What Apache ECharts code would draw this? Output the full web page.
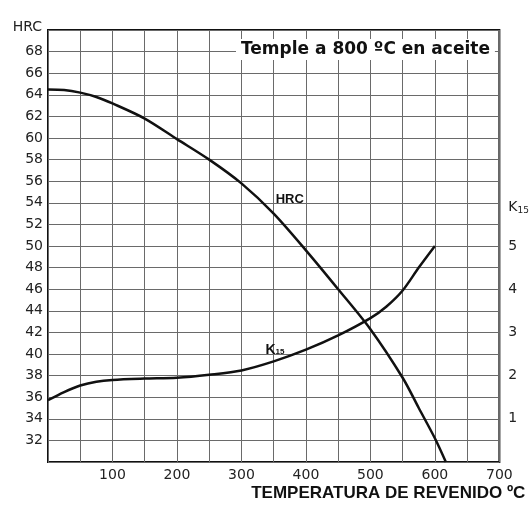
<!DOCTYPE html>
<html>
<head>
<meta charset="utf-8">
<script src="https://cdn.jsdelivr.net/npm/echarts@6/dist/echarts.min.js"></script>
<style>
  html, body { margin: 0; padding: 0; background: #fff; }
  #chart { width: 532px; height: 506px; }
</style>
</head>
<body>
<div id="chart"></div>
<script>
// Tempering temperature (ºC) against hardness (HRC) and toughness (K15)
const temperatures = [0, 25, 50, 75, 100, 150, 200, 250, 300, 350, 400, 450, 500, 550, 575, 600, 617];
const hrcValues    = [64.5, 64.45, 64.2, 63.8, 63.2, 61.8, 59.9, 58.0, 55.8, 53.0, 49.6, 46.0, 42.3, 37.8, 35.0, 32.2, 30.0];

const kTemperatures = [0, 25, 50, 75, 100, 150, 200, 250, 300, 350, 400, 450, 500, 525, 550, 575, 600];
const k15Values     = [1.43, 1.62, 1.77, 1.86, 1.9, 1.93, 1.95, 2.02, 2.12, 2.33, 2.6, 2.93, 3.33, 3.6, 3.97, 4.5, 5.0];

const xTickLabels = [100, 200, 300, 400, 500, 600, 700];
const hrcTickLabels = [32, 34, 36, 38, 40, 42, 44, 46, 48, 50, 52, 54, 56, 58, 60, 62, 64, 66, 68];
const k15TickLabels = [1, 2, 3, 4, 5];

const titleText = 'Temple a 800 ºC en aceite';
const xAxisTitle = 'TEMPERATURA DE REVENIDO ºC';

const chart = echarts.init(document.getElementById('chart'), null, { renderer: 'canvas' });

const gridLine = { show: true, lineStyle: { color: '#6a6a6a', width: 1 } };
const labelFont = { fontFamily: 'DejaVu Sans', fontSize: 14, color: '#222' };

// invisible anchor used to place text next to a curve
const curveTag = (coord, label) => ({
  symbol: 'rect',
  symbolSize: 1,
  itemStyle: { color: 'rgba(0,0,0,0)' },
  label: Object.assign({ show: true, position: 'inside' }, label),
  data: [{ coord: coord }]
});

const option = {
  animation: false,
  backgroundColor: '#fff',
  title: {
    text: titleText,
    left: 236,
    top: 39,
    padding: [2, 5],
    backgroundColor: '#fff',
    textStyle: { fontFamily: 'DejaVu Sans', fontWeight: 'bold', fontSize: 17, color: '#111' }
  },
  grid: {
    left: 48, right: 26, top: 30, bottom: 44,
    show: true, borderColor: '#111', borderWidth: 2, backgroundColor: 'transparent'
  },
  xAxis: {
    type: 'value', min: 0, max: 700, interval: 50,
    axisLine: { show: false },
    axisTick: { show: false },
    splitLine: gridLine,
    axisLabel: Object.assign({}, labelFont, {
      margin: 6,
      formatter: v => xTickLabels.includes(v) ? String(v) : ''
    }),
    name: xAxisTitle,
    nameLocation: 'end',
    nameGap: 0,
    nameTextStyle: {
      fontFamily: 'Liberation Sans', fontWeight: 'bold', fontSize: 17, color: '#111',
      align: 'right', verticalAlign: 'top', padding: [23, -26, 0, 0]
    }
  },
  yAxis: [
    {
      type: 'value', min: 30, max: 70, interval: 2,
      axisLine: { show: false },
      axisTick: { show: false },
      splitLine: gridLine,
      axisLabel: Object.assign({}, labelFont, {
        margin: 5,
        formatter: v => hrcTickLabels.includes(v) ? String(v) : ''
      }),
      name: 'HRC',
      nameLocation: 'end',
      nameGap: -4,
      nameTextStyle: Object.assign({}, labelFont, { align: 'right', padding: [0, 6, 0, 0] })
    },
    {
      type: 'value', min: 0, max: 10, interval: 1, position: 'right',
      axisLine: { show: false },
      axisTick: { show: false },
      splitLine: { show: false },
      axisLabel: Object.assign({}, labelFont, {
        margin: 9,
        formatter: v => k15TickLabels.includes(v) ? String(v) : (v === 6 ? '{k|K}{s|15}' : ''),
        rich: {
          k: { fontFamily: 'DejaVu Sans', fontSize: 14, color: '#222', padding: [10, 0, 0, 0] },
          s: { fontFamily: 'DejaVu Sans', fontSize: 9, color: '#222', padding: [16, 0, 0, 0] }
        }
      })
    }
  ],
  series: [
    {
      name: 'HRC',
      type: 'line',
      yAxisIndex: 0,
      data: temperatures.map((t, i) => [t, hrcValues[i]]),
      smooth: 0.3,
      showSymbol: false,
      lineStyle: { color: '#111', width: 2.5 },
      markPoint: curveTag([375, 54.3], {
        formatter: 'HRC',
        fontFamily: 'Liberation Sans', fontWeight: 'bold', fontSize: 13, color: '#111'
      })
    },
    {
      name: 'K15',
      type: 'line',
      yAxisIndex: 1,
      data: kTemperatures.map((t, i) => [t, k15Values[i]]),
      smooth: 0.3,
      showSymbol: false,
      lineStyle: { color: '#111', width: 2.5 },
      markPoint: curveTag([352, 2.6], {
        formatter: '{k|K}{s|15}',
        rich: {
          k: { fontFamily: 'Liberation Sans', fontWeight: 'bold', fontSize: 14, color: '#111' },
          s: { fontFamily: 'Liberation Sans', fontWeight: 'bold', fontSize: 8, color: '#111', padding: [5, 0, 0, 0] }
        }
      })
    }
  ]
};

chart.setOption(option);
</script>
</body>
</html>
